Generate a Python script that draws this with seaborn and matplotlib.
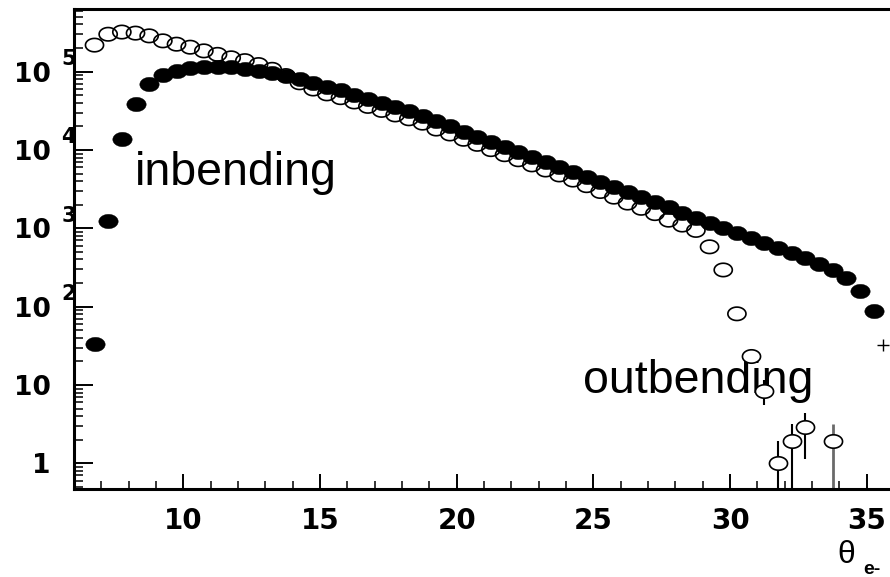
import numpy as np
import pandas as pd
import matplotlib
matplotlib.use("Agg")
import matplotlib.pyplot as plt
import seaborn as sns
from matplotlib.path import Path
from matplotlib.markers import MarkerStyle
from matplotlib.ticker import LogLocator, MultipleLocator, FixedLocator, NullFormatter

# theta bins of 0.5 deg, centres
theta = np.arange(6.75, 35.5, 0.5)

# electron yields per bin, inbending torus field
inbending = [
    33, 1250, 14000, 39000, 69000, 90000, 103000, 110000, 114000, 115000,
    113000, 109000, 103000, 95000, 87000, 80000, 71000, 64000, 58000, 51000,
    45000, 40000, 35000, 31500, 27500, 23500, 20000, 17100, 14700, 12700,
    10900, 9400, 8100, 7000, 6050, 5200, 4500, 3870, 3340, 2880,
    2480, 2140, 1850, 1590, 1370, 1170, 1000, 865, 745, 650,
    560, 480, 420, 350, 295, 232, 158, 88,
]

# electron yields per bin, outbending torus field (NaN = empty bin)
outbending = [
    218000, 300000, 320000, 310000, 286000, 247000, 224000, 205000, 184000, 166000,
    150000, 138000, 123000, 107000, 89000, 72000, 60000, 52000, 46500, 41000,
    36000, 32000, 28000, 25000, 22000, 18500, 16000, 13700, 11800, 10100,
    8700, 7500, 6450, 5550, 4800, 4130, 3500, 2950, 2500, 2100,
    1800, 1540, 1270, 1100, 940, 580, 294, 81, 23.5, 8.4,
    1.0, 1.9, 2.9, np.nan, 1.9, np.nan, np.nan, np.nan,
]

# low-statistics outbending bins with their error ranges
tail_theta = [30.75, 31.25, 31.75, 32.25, 32.75, 33.75]
tail_val = [23.5, 8.4, 1.0, 1.9, 2.9, 1.9]
tail_low = [18.5, 5.6, 0.3, 0.3, 1.13, 0.3]
tail_high = [28.5, 11.6, 1.9, 3.2, 4.45, 3.2]

# single overflow entry drawn as a cross
extra_theta = [35.6]
extra_val = [32]

df = pd.DataFrame({"theta": theta, "inbending": inbending, "outbending": outbending})
tail = pd.DataFrame({"theta": tail_theta, "val": tail_val, "low": tail_low, "high": tail_high})
main_out = df[~df["theta"].isin(tail_theta)]

sns.set_style("ticks")
plt.rcParams["font.family"] = ["DejaVu Sans"]
plt.rcParams["text.color"] = "black"
plt.rcParams["xtick.color"] = "black"
plt.rcParams["ytick.color"] = "black"
plt.rcParams["axes.labelcolor"] = "black"

# slightly wide elliptical marker
t = np.linspace(0, 2 * np.pi, 64)
ell_verts = np.column_stack([np.cos(t), 0.74 * np.sin(t)])
ellipse = MarkerStyle(Path(ell_verts, closed=True))

W, H = 890, 577
fig = plt.figure(figsize=(W / 100, H / 100), dpi=100)
ax = fig.add_axes([74 / W, 1 - 489 / H, 1 - 74 / W, (489 - 9) / H])
ax.set_yscale("log")

# error bars for the sparse outbending tail
ax.errorbar(tail["theta"][:-1], tail["val"][:-1],
            yerr=[(tail["val"] - tail["low"])[:-1], (tail["high"] - tail["val"])[:-1]],
            fmt="none", ecolor="black", elinewidth=1.5, capsize=0, zorder=2)
ax.errorbar(tail["theta"][-1:], tail["val"][-1:],
            yerr=[(tail["val"] - tail["low"])[-1:], (tail["high"] - tail["val"])[-1:]],
            fmt="none", ecolor="#6a6a6a", elinewidth=2.0, capsize=0, zorder=2)

# outbending: hollow markers
sns.scatterplot(data=main_out, x="theta", y="outbending", marker=ellipse, s=170,
                color="black", edgecolor="black", linewidth=1.2, ax=ax, zorder=3)
ax.collections[-1].set_facecolor("none")
sns.scatterplot(data=tail, x="theta", y="val", marker=ellipse, s=170,
                color="white", edgecolor="black", linewidth=1.2, ax=ax, zorder=3)

# inbending: filled markers
sns.scatterplot(data=df, x="theta", y="inbending", marker=ellipse, s=195,
                color="black", edgecolor="black", linewidth=0.3, ax=ax, zorder=4)

ax.plot(extra_theta, extra_val, marker="+", markersize=8, mew=1.0, color="black",
        linestyle="none", zorder=4)

ax.set_xlim(6, 35.85)
ax.set_ylim(0.47, 6.3e5)
ax.set_xlabel("")
ax.set_ylabel("")

# axis frame
for side in ["left", "bottom", "top"]:
    ax.spines[side].set_linewidth(2.2)
    ax.spines[side].set_color("black")
ax.spines["right"].set_visible(False)

# ticks
ax.xaxis.set_major_locator(FixedLocator([10, 15, 20, 25, 30, 35]))
ax.xaxis.set_minor_locator(MultipleLocator(1))
ax.yaxis.set_major_locator(FixedLocator([1, 10, 100, 1000, 1e4, 1e5]))
ax.yaxis.set_minor_locator(LogLocator(base=10, subs=np.arange(2, 10), numticks=20))
ax.yaxis.set_minor_formatter(NullFormatter())
ax.set_xticklabels(["10", "15", "20", "25", "30", "35"])
ax.set_yticklabels(["1", "10", "10", "10", "10", "10"])

ax.tick_params(axis="x", which="major", direction="in", length=11, width=1.4,
               pad=13, labelsize=20, colors="black")
ax.tick_params(axis="x", which="minor", direction="in", length=5.5, width=1.1, colors="black")
ax.tick_params(axis="y", which="major", direction="in", length=13.5, width=1.4,
               pad=17, labelsize=19, colors="black")
ax.tick_params(axis="y", which="minor", direction="in", length=6.5, width=1.1, colors="black")
ax.tick_params(top=False, right=False, which="both")
for lab in ax.get_xticklabels() + ax.get_yticklabels():
    lab.set_fontweight("bold")

# decade exponents on the y labels
for e in [2, 3, 4, 5]:
    ax.annotate(str(e), xy=(0, 10 ** e), xycoords=("axes fraction", "data"),
                xytext=(-4, 9), textcoords="offset points", ha="center", va="center",
                fontsize=15, fontweight="bold", color="black", annotation_clip=False)

# field labels
ax.text(8.23, 3570, "inbending", fontsize=33.5, family="Liberation Sans",
        color="black", ha="left", va="baseline", zorder=1)
ax.text(24.62, 7.93, "outbending", fontsize=33.5, family="Liberation Sans",
        color="black", ha="left", va="baseline", zorder=1)

# axis title at lower right
fig.text(837 / W, 1 - 563 / H, "θ", fontsize=23, family="Liberation Sans",
         color="black", ha="left", va="baseline")
fig.text(863 / W, 1 - 574 / H, "e-", fontsize=14, family="Liberation Sans",
         fontweight="bold", color="black", ha="left", va="baseline")

fig.savefig("out.png", dpi=100)
